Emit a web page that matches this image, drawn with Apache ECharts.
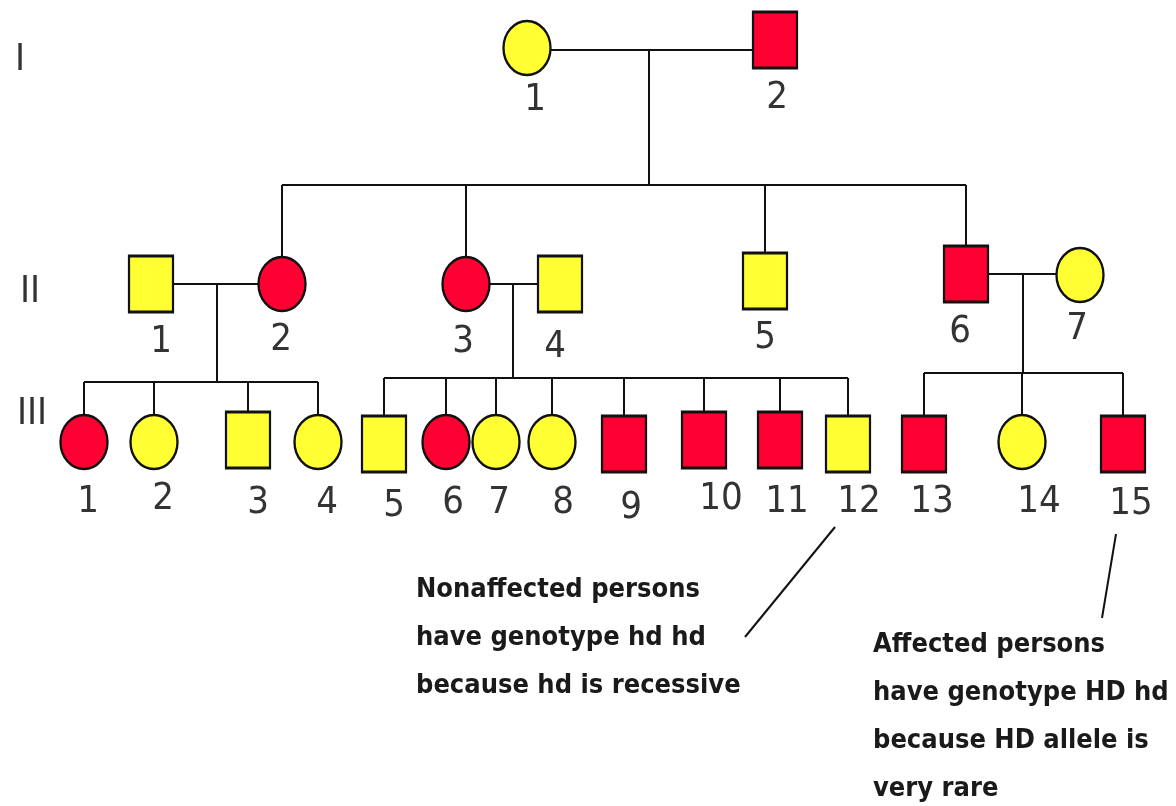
<!DOCTYPE html>
<html>
<head>
<meta charset="utf-8">
<title>Pedigree</title>
<script src="https://cdn.jsdelivr.net/npm/echarts@6/dist/echarts.min.js"></script>
<style>
  html, body { margin: 0; padding: 0; background: #fff; }
  #main { width: 1176px; height: 806px; }
</style>
</head>
<body>
<div id="main"></div>
<script>
// individuals: id, sex, affected, x, y (picture units)
const people = [
  ['I-1', 'F', 0, 527, 48], ['I-2', 'M', 1, 775, 40],
  ['II-1', 'M', 0, 151, 284], ['II-2', 'F', 1, 282, 284], ['II-3', 'F', 1, 466, 284],
  ['II-4', 'M', 0, 560, 284], ['II-5', 'M', 0, 765, 281], ['II-6', 'M', 1, 966, 274],
  ['II-7', 'F', 0, 1080, 275],
  ['III-1', 'F', 1, 84, 442], ['III-2', 'F', 0, 154, 442], ['III-3', 'M', 0, 248, 440],
  ['III-4', 'F', 0, 318, 442], ['III-5', 'M', 0, 384, 444], ['III-6', 'F', 1, 446, 442],
  ['III-7', 'F', 0, 496, 442], ['III-8', 'F', 0, 552, 442], ['III-9', 'M', 1, 624, 444],
  ['III-10', 'M', 1, 704, 440], ['III-11', 'M', 1, 780, 440], ['III-12', 'M', 0, 848, 444],
  ['III-13', 'M', 1, 924, 444], ['III-14', 'F', 0, 1022, 442], ['III-15', 'M', 1, 1123, 444]
];

// families: parent A, parent B, marriage line y, drop x, sibship line y, children
const families = [
  ['I-1', 'I-2', 50, 649, 185, ['II-2', 'II-3', 'II-5', 'II-6']],
  ['II-1', 'II-2', 284, 217, 382, ['III-1', 'III-2', 'III-3', 'III-4']],
  ['II-3', 'II-4', 284, 513, 378, ['III-5', 'III-6', 'III-7', 'III-8', 'III-9', 'III-10', 'III-11', 'III-12']],
  ['II-6', 'II-7', 274, 1023, 373, ['III-13', 'III-14', 'III-15']]
];

// number under each symbol: text, x, y
const numberLabels = [
  ['1', 535, 100], ['2', 777, 98],
  ['1', 161, 342], ['2', 281, 340], ['3', 463, 342], ['4', 555, 347], ['5', 765, 338],
  ['6', 960, 332], ['7', 1077, 329],
  ['1', 88, 502], ['2', 163, 499], ['3', 258, 503], ['4', 327, 503], ['5', 394, 506],
  ['6', 453, 503], ['7', 499, 503], ['8', 563, 503], ['9', 631, 508], ['10', 721, 499],
  ['11', 787, 502], ['12', 859, 502], ['13', 932, 502], ['14', 1039, 502], ['15', 1131, 504]
];

const genLabels = [['I', 20, 60], ['II', 30, 292], ['III', 32, 414]];

// pointer lines from numbers to notes
const pointers = [[[835, 527], [745, 637]], [[1116, 534], [1102, 618]]];

const notes = [
  ['Nonaffected persons\nhave genotype hd hd\nbecause hd is recessive', 416, 566],
  ['Affected persons\nhave genotype HD hd\nbecause HD allele is\nvery rare', 873, 621]
];

const RED = '#ff0033';
const YELLOW = '#ffff33';
const ellipse = 'path://M50 0A50 50 0 1 1 50 100A50 50 0 1 1 50 0Z';

const byId = {};
people.forEach(p => { byId[p[0]] = p; });

// build tree segments
let segs = [];
families.forEach(f => {
  const a = byId[f[0]], b = byId[f[1]];
  segs.push([[a[3], f[2]], [b[3], f[2]]]);
  segs.push([[f[3], f[2]], [f[3], f[4]]]);
  const xs = f[5].map(id => byId[id][3]);
  segs.push([[Math.min(...xs), f[4]], [Math.max(...xs), f[4]]]);
  f[5].forEach(id => {
    const c = byId[id];
    segs.push([[c[3], f[4]], [c[3], c[4]]]);
  });
});

let myChart = echarts.init(document.getElementById('main'));

const numFont = {
  fontFamily: '"DejaVu Sans Condensed", "Liberation Sans", sans-serif',
  fontSize: 38,
  fontWeight: 'normal',
  color: '#000'
};

let option = {
  animation: false,
  grid: { left: 0, right: 0, top: 0, bottom: 0 },
  xAxis: { type: 'value', min: 0, max: 1176, show: false },
  yAxis: { type: 'value', min: 0, max: 806, inverse: true, show: false },
  series: [
    {
      type: 'lines',
      coordinateSystem: 'cartesian2d',
      z: 1,
      lineStyle: { color: '#111', width: 2, opacity: 1 },
      data: segs.concat(pointers).map(s => ({ coords: s }))
    },
    {
      type: 'scatter',
      z: 3,
      data: people.map(p => ({
        name: p[0],
        value: [p[3], p[4]],
        symbol: p[1] === 'F' ? ellipse : 'rect',
        symbolSize: p[1] === 'F' ? [47, 54] : [44, 56],
        itemStyle: { color: p[2] ? RED : YELLOW }
      })),
      itemStyle: { borderColor: '#111', borderWidth: 2.5, opacity: 1 },
      emphasis: { disabled: true }
    },
    {
      type: 'scatter',
      z: 4,
      symbolSize: 0,
      silent: true,
      data: numberLabels.concat(genLabels).map(l => ({ name: l[0], value: [l[1], l[2]] })),
      label: Object.assign({ show: true, position: 'inside', formatter: '{b}' }, numFont)
    }
  ],
  graphic: notes.map(n => ({
    type: 'text',
    left: n[1],
    top: n[2],
    style: {
      text: n[0],
      font: 'bold 27px "DejaVu Sans Condensed", "Liberation Sans", sans-serif',
      lineHeight: 48,
      fill: '#1a1a1a'
    }
  }))
};

myChart.setOption(option);
</script>
</body>
</html>
